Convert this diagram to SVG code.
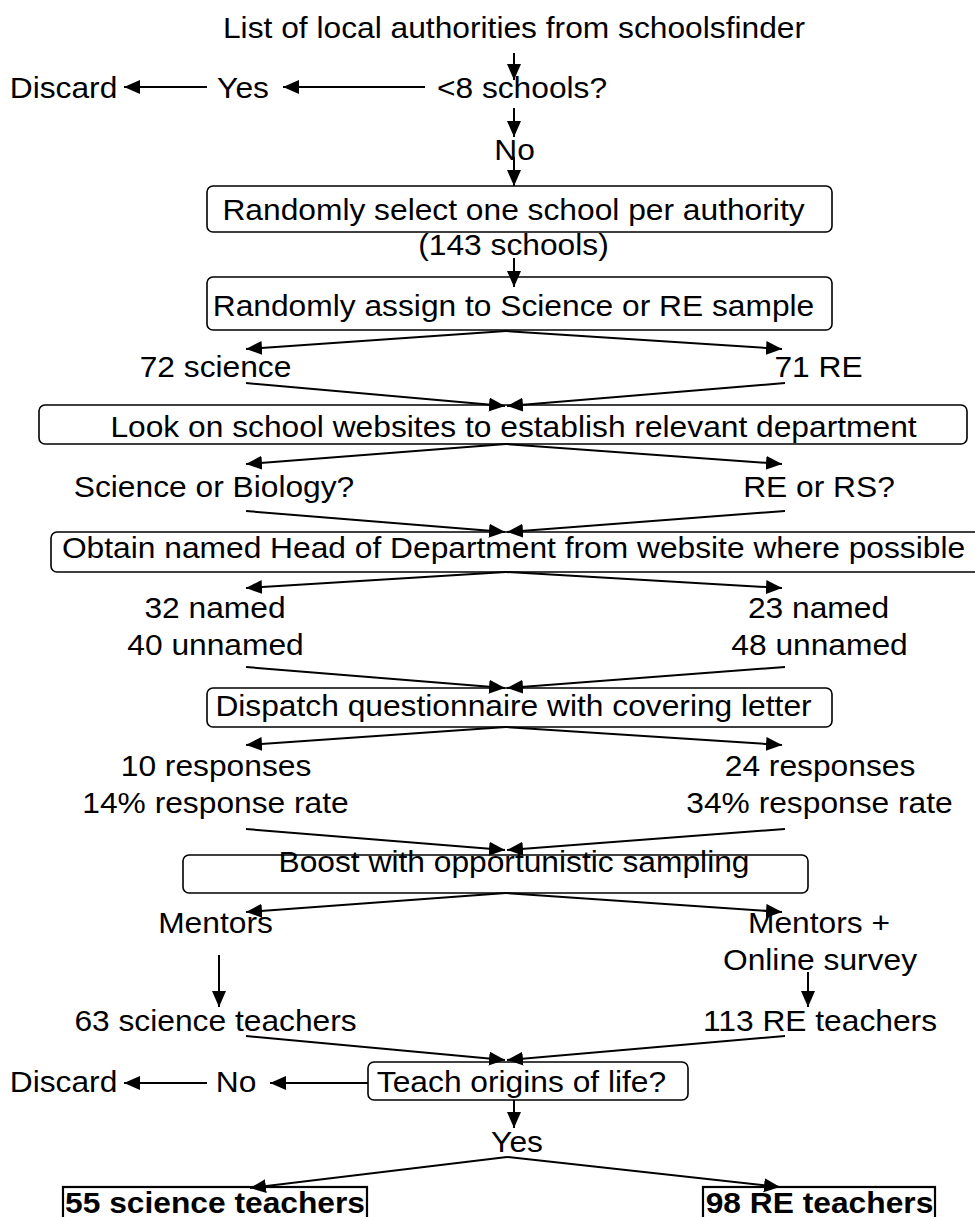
<svg xmlns="http://www.w3.org/2000/svg" width="975" height="1217" viewBox="0 0 975 1217">
<style>
text{font-family:"Liberation Sans",Arial,sans-serif;font-size:29px;fill:#000;text-anchor:middle}
.b{font-weight:bold}
.box{fill:none;stroke:#000;stroke-width:1.6}
.fbox{fill:none;stroke:#000;stroke-width:2.2}
.c line{stroke:#000;stroke-width:2;marker-end:url(#ah)}
</style>
<defs>
<marker id="ah" markerUnits="userSpaceOnUse" markerWidth="17" markerHeight="15" refX="16" refY="7" orient="auto">
<path d="M0,0 L16,7 L0,14 z" fill="#000"/>
</marker>
</defs>
<rect width="975" height="1217" fill="#fff"/>
<g id="n-list"><text transform="translate(514,38) scale(1.095,1)">List of local authorities from schoolsfinder</text></g>
<g id="n-q8"><text transform="translate(522,97.5) scale(1.095,1)">&lt;8 schools?</text></g>
<g id="n-yes1"><text transform="translate(243,97.5) scale(1.095,1)">Yes</text></g>
<g id="n-discard1"><text transform="translate(63.5,97.5) scale(1.095,1)">Discard</text></g>
<g id="n-no1"><text transform="translate(514.5,160) scale(1.095,1)">No</text></g>
<g id="n-select"><rect class="box" x="207" y="186" width="625" height="46" rx="6"/><text transform="translate(513.5,220) scale(1.095,1)">Randomly select one school per authority</text><text transform="translate(513.5,255) scale(1.095,1)">(143 schools)</text></g>
<g id="n-assign"><rect class="box" x="207" y="277" width="625" height="53" rx="6"/><text transform="translate(513.5,316) scale(1.095,1)">Randomly assign to Science or RE sample</text></g>
<g id="n-72"><text transform="translate(215.5,377) scale(1.095,1)">72 science</text></g>
<g id="n-71"><text transform="translate(818.5,377) scale(1.095,1)">71 RE</text></g>
<g id="n-look"><rect class="box" x="39" y="405" width="928" height="39" rx="6"/><text transform="translate(513.5,437) scale(1.095,1)">Look on school websites to establish relevant department</text></g>
<g id="n-scibio"><text transform="translate(214,497) scale(1.095,1)">Science or Biology?</text></g>
<g id="n-rers"><text transform="translate(819,497) scale(1.095,1)">RE or RS?</text></g>
<g id="n-obtain"><rect class="box" x="51" y="532" width="940" height="40" rx="6"/><text transform="translate(513.5,558) scale(1.095,1)">Obtain named Head of Department from website where possible</text></g>
<g id="n-scinamed"><text transform="translate(215,618) scale(1.095,1)">32 named</text><text transform="translate(215.5,655) scale(1.095,1)">40 unnamed</text></g>
<g id="n-renamed"><text transform="translate(818.5,618) scale(1.095,1)">23 named</text><text transform="translate(819.5,655) scale(1.095,1)">48 unnamed</text></g>
<g id="n-dispatch"><rect class="box" x="207" y="688" width="625" height="39" rx="6"/><text transform="translate(513.5,716) scale(1.095,1)">Dispatch questionnaire with covering letter</text></g>
<g id="n-sciresp"><text transform="translate(216,776) scale(1.095,1)">10 responses</text><text transform="translate(215.5,813) scale(1.095,1)">14% response rate</text></g>
<g id="n-reresp"><text transform="translate(820,776) scale(1.095,1)">24 responses</text><text transform="translate(819.5,813) scale(1.095,1)">34% response rate</text></g>
<g id="n-boost"><rect class="box" x="183" y="855" width="625" height="38" rx="6"/><text transform="translate(514,872) scale(1.095,1)">Boost with opportunistic sampling</text></g>
<g id="n-mentors"><text transform="translate(215.5,933) scale(1.095,1)">Mentors</text></g>
<g id="n-mentorsonline"><text transform="translate(819,933) scale(1.095,1)">Mentors +</text><text transform="translate(820,970) scale(1.095,1)">Online survey</text></g>
<g id="n-63"><text transform="translate(215.5,1031) scale(1.095,1)">63 science teachers</text></g>
<g id="n-113"><text transform="translate(820,1031) scale(1.095,1)">113 RE teachers</text></g>
<g id="n-teach"><rect class="box" x="368" y="1062" width="320" height="38" rx="6"/><text transform="translate(521.5,1092) scale(1.095,1)">Teach origins of life?</text></g>
<g id="n-no2"><text transform="translate(236,1092) scale(1.095,1)">No</text></g>
<g id="n-discard2"><text transform="translate(63.5,1092) scale(1.095,1)">Discard</text></g>
<g id="n-yes2"><text transform="translate(517,1152) scale(1.095,1)">Yes</text></g>
<g id="n-55"><rect class="fbox" x="63" y="1187" width="304" height="40"/><text class="b" transform="translate(215,1213) scale(1.095,1)">55 science teachers</text></g>
<g id="n-98"><rect class="fbox" x="703" y="1187" width="232" height="40"/><text class="b" transform="translate(819.5,1213) scale(1.095,1)">98 RE teachers</text></g>
<g id="connectors" class="c">
<line x1="514" y1="53" x2="514" y2="80"/>
<line x1="425" y1="87" x2="283" y2="87"/>
<line x1="207" y1="87" x2="124" y2="87"/>
<line x1="514" y1="108" x2="514" y2="137"/>
<line x1="514" y1="157" x2="514" y2="186"/>
<line x1="514" y1="258" x2="514" y2="287"/>
<line x1="506" y1="331" x2="246" y2="349"/>
<line x1="506" y1="331" x2="782" y2="349"/>
<line x1="246" y1="383" x2="505" y2="406"/>
<line x1="785" y1="383" x2="507" y2="406"/>
<line x1="506" y1="444" x2="246" y2="464"/>
<line x1="506" y1="444" x2="782" y2="464"/>
<line x1="246" y1="511" x2="505" y2="532"/>
<line x1="785" y1="511" x2="507" y2="532"/>
<line x1="506" y1="572" x2="246" y2="588"/>
<line x1="506" y1="572" x2="782" y2="588"/>
<line x1="246" y1="667" x2="505" y2="688"/>
<line x1="785" y1="667" x2="507" y2="688"/>
<line x1="506" y1="727" x2="246" y2="745"/>
<line x1="506" y1="727" x2="782" y2="745"/>
<line x1="246" y1="829" x2="505" y2="850"/>
<line x1="785" y1="829" x2="507" y2="850"/>
<line x1="506" y1="893" x2="246" y2="912"/>
<line x1="506" y1="893" x2="782" y2="912"/>
<line x1="219" y1="955" x2="219" y2="1007"/>
<line x1="808" y1="972" x2="808" y2="1007"/>
<line x1="246" y1="1036" x2="505" y2="1060"/>
<line x1="785" y1="1036" x2="507" y2="1060"/>
<line x1="368" y1="1083" x2="270" y2="1083"/>
<line x1="207" y1="1083" x2="124" y2="1083"/>
<line x1="514" y1="1100" x2="514" y2="1128"/>
<line x1="507" y1="1157" x2="250" y2="1188"/>
<line x1="507" y1="1157" x2="780" y2="1187"/>
</g>
</svg>
